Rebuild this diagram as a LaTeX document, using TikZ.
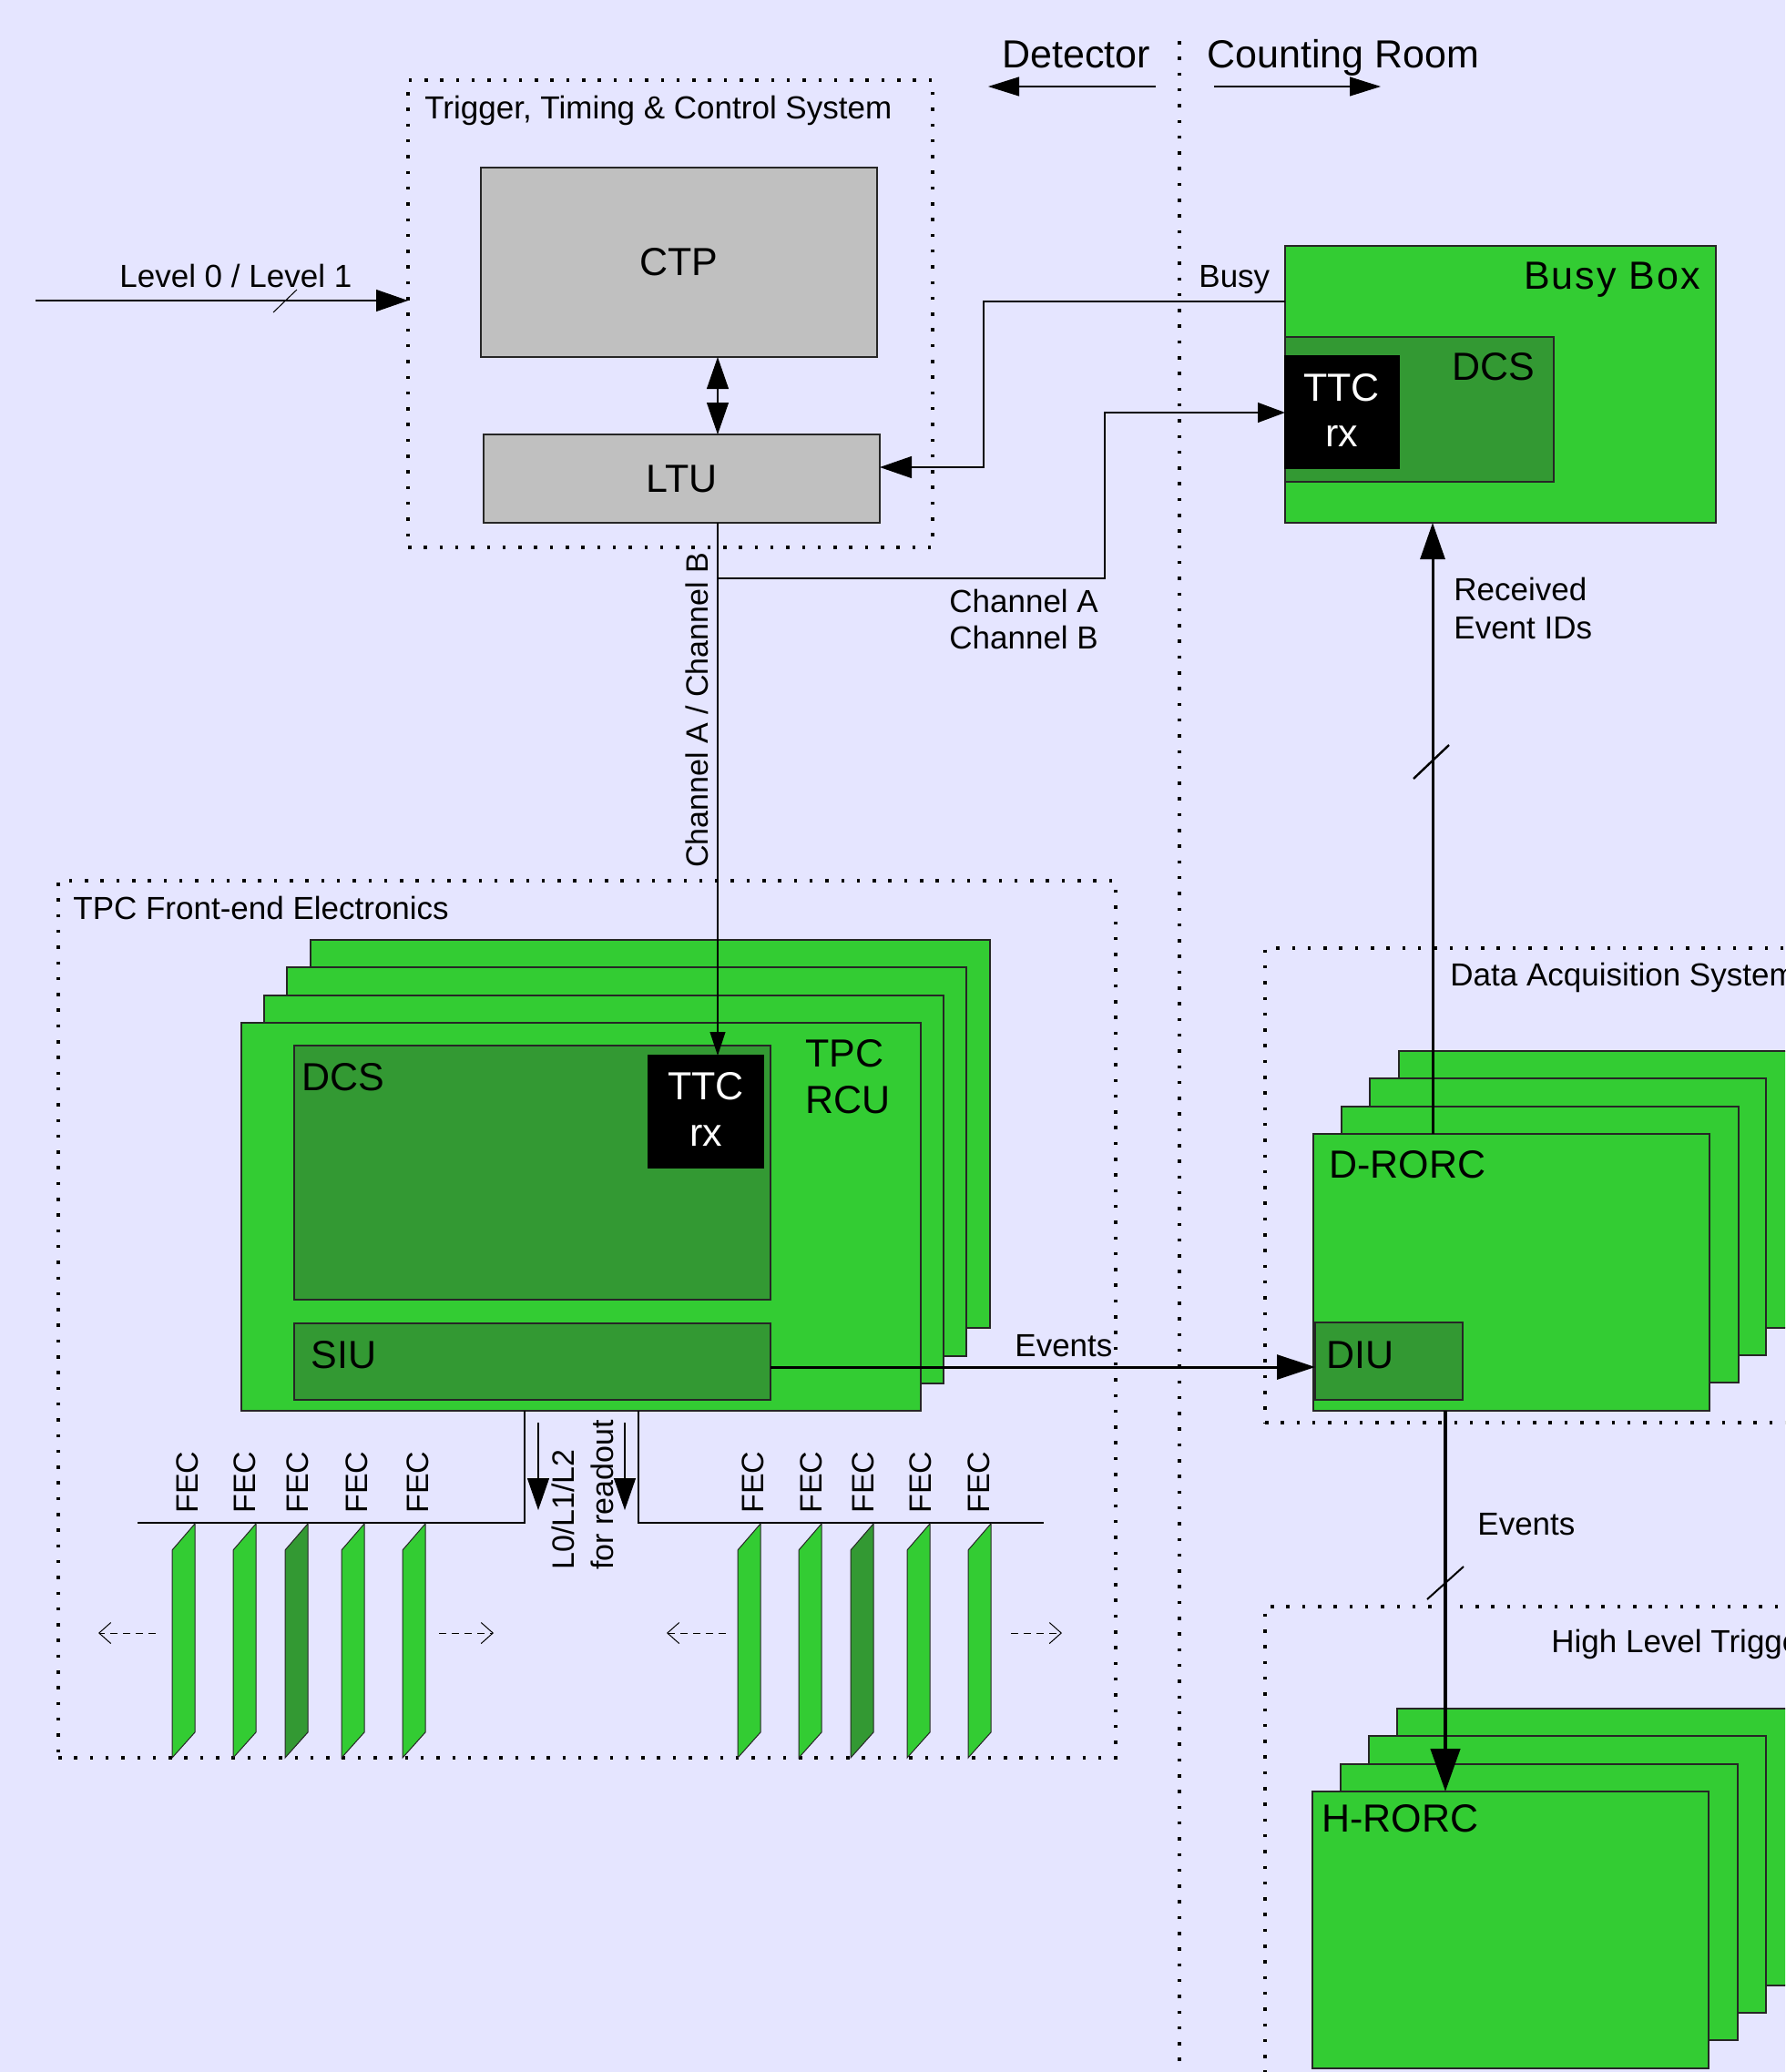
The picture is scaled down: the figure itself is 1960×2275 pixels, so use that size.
\documentclass[tikz,border=0pt]{standalone}
\usepackage{fontspec}
\setmainfont{Liberation Sans}
\usetikzlibrary{arrows.meta,fit}
\definecolor{bgc}{RGB}{229,229,255}
\definecolor{grn}{RGB}{51,204,51}
\definecolor{dgrn}{RGB}{51,153,51}
\definecolor{gry}{RGB}{192,192,192}
\begin{document}
\begin{tikzpicture}[x=0.5pt,y=-0.5pt,
  bx/.style={draw=black!85,line width=0.6pt,inner sep=0pt,outer sep=0pt},
  gbox/.style={bx,fill=grn},
  dbox/.style={bx,fill=dgrn},
  kbox/.style={bx,draw=black,fill=black},
  graybox/.style={bx,fill=gry},
  dotbox/.style={draw=black,line width=1.75pt,dash pattern=on 1.75pt off 6.9pt,inner sep=0pt,outer sep=0pt},
  fa/.style={font=\fontsize{17.5}{21}\selectfont},
  fb/.style={font=\fontsize{21.5}{26}\selectfont},
  fc/.style={font=\fontsize{17}{20}\selectfont},
  lbl/.style={inner sep=0pt,anchor=base west},
  thinln/.style={draw=black,line width=0.55pt},
  tipA/.style={-{Triangle[length=17.5pt,width=12pt]}},
  tipS/.style={-{Triangle[length=13pt,width=8.5pt]}},
  tipR/.style={-{Triangle[length=20pt,width=13.5pt]}},
  tipE/.style={-{Triangle[length=21pt,width=13.5pt]}},
  tipEE/.style={-{Triangle[length=23.5pt,width=16pt]}},
  tipD/.style={-{Triangle[length=17pt,width=10.5pt]}},
  dsh/.style={draw=black,line width=0.5pt,dash pattern=on 4pt off 3pt,-{Straight Barb[length=6.5pt,width=11.5pt]}},
  card/.style={draw=black!85,line width=0.5pt}
]
\clip (0,0) rectangle (1960,2275);
\fill[bgc] (0,0) rectangle (1960,2275);

% ---------- separator Detector / Counting Room
\draw[dotbox] (1295,45) -- (1295,2300);
\node[lbl,fb] (det) at (1100,74) {Detector};
\node[lbl,fb] (cr) at (1325,74) {Counting Room};
\coordinate (dA) at (1269,95);
\coordinate (dB) at (1085,95);
\coordinate (cA) at (1333,95);
\coordinate (cB) at (1516,95);
\draw[thinln,tipD] (dA) -- (dB);
\draw[thinln,tipD] (cA) -- (cB);

% ---------- dotted system boxes
\node[dotbox,fit={(448,88) (1024,601)}] (ttcs) {};
\node[lbl,fa] at (466,130) {Trigger, Timing \& Control System};
\node[dotbox,fit={(64,967) (1225,1930)}] (fee) {};
\node[lbl,fa] at (80,1009) {TPC Front-end Electronics};
\node[dotbox,fit={(1389,1041) (2010,1562)}] (daq) {};
\node[lbl,fa] at (1592,1082) {Data Acquisition System};
\node[dotbox,fit={(1389,1764) (2010,2400)}] (hlt) {};
\node[lbl,fa] at (1703,1814) {High Level Trigger};

% ---------- CTP / LTU
\node[graybox,fit={(528,184) (963,392)}] (ctp) {};
\node[inner sep=0pt,fb] (ctpt) at (ctp.center) {CTP};
\node[graybox,fit={(531,477) (966,574)}] (ltu) {};
\node[inner sep=0pt,fb] (ltut) at (ltu.center) {LTU};
\coordinate (chx) at (788,0);
\draw[thinln,{Triangle[length=17.5pt,width=12pt]}-{Triangle[length=17.5pt,width=12pt]}]
  (ctp.south -| chx) -- (ltu.north -| chx);

% ---------- Level 0 / Level 1
\coordinate (lvl) at (39,330);
\draw[thinln,tipA] (lvl) -- (lvl -| ttcs.west);
\draw[line width=0.5pt] (300,343) -- (326,318);
\node[lbl,fa] at (131,315) {Level 0 / Level 1};

% ---------- Busy Box
\node[gbox,fit={(1411,270) (1884,574)}] (bb) {};
\node[inner sep=0pt,anchor=base east,fb] at (1867,317) {\addfontfeature{LetterSpace=4.5}Busy Box};
\node[dbox,fit={(1411,370) (1706,529)}] (bdcs) {};
\node[lbl,fb] at (1594,417) {DCS};
\node[kbox,fit={(1411,391) (1536,514)}] (bttc) {};
\node[inner sep=0pt,anchor=base,fb,text=white] at (1473,440) {TTC};
\node[inner sep=0pt,anchor=base,fb,text=white] at (1473,490) {rx};

% Busy signal
\coordinate (busyy) at (0,331);
\coordinate (busyx) at (1080,513);
\draw[thinln,tipA] (bb.west |- busyy) -| (busyx) -- (busyx -| ltu.east);
\node[lbl,fa] at (1316,315) {Busy};

% ---------- TPC RCU stack
\node[gbox,fit={(341,1032) (1087,1458)}] (rcu4) {};
\node[gbox,fit={(315,1062) (1061,1489)}] (rcu3) {};
\node[gbox,fit={(290,1093) (1036,1519)}] (rcu2) {};
\node[gbox,fit={(265,1123) (1011,1549)}] (rcu) {};
\node[dbox,fit={(323,1148) (846,1427)}] (rdcs) {};
\node[lbl,fb] at (331,1197) {DCS};
\node[kbox,fit={(712,1159) (838,1282)}] (rttc) {};
\node[inner sep=0pt,anchor=base,fb,text=white] at (775,1207) {TTC};
\node[inner sep=0pt,anchor=base,fb,text=white] at (775,1258) {rx};
\node[lbl,fb] at (884,1171) {TPC};
\node[lbl,fb] at (884,1222) {RCU};
\node[dbox,fit={(323,1453) (846,1537)}] (siu) {};
\node[lbl,fb] at (341,1502) {SIU};

% Channel A / Channel B
\draw[thinln,tipS] (ltu.south -| chx) -- (rttc.north -| chx);
\node[inner sep=0pt,anchor=base,rotate=90,fc] at (777,780) {Channel A / Channel B};
\coordinate (chj) at (788,635);
\coordinate (chk) at (1213,453);
\draw[thinln,-{Triangle[length=15pt,width=11pt]}] (chj) -| (chk) -- (chk -| bttc.west);
\node[lbl,fa] at (1042,672) {Channel A};
\node[lbl,fa] at (1042,712) {Channel B};

% ---------- D-RORC stack
\node[gbox,fit={(1536,1154) (1971,1458)}] (dr4) {};
\node[gbox,fit={(1504,1184) (1939,1488)}] (dr3) {};
\node[gbox,fit={(1473,1215) (1909,1518)}] (dr2) {};
\node[gbox,fit={(1442,1245) (1877,1549)}] (drorc) {};
\node[lbl,fb] at (1459,1293) {D-RORC};
\node[dbox,fit={(1444,1452) (1606,1537)}] (diu) {};
\node[lbl,fb] at (1456,1502) {DIU};

% Received Event IDs
\coordinate (rx) at (1573,0);
\draw[line width=1.5pt,tipR] (drorc.north -| rx) -- (bb.south -| rx);
\draw[line width=1.2pt] (1552,855) -- (1591,818);
\node[lbl,fa] at (1596,659) {Received};
\node[lbl,fa] at (1596,701) {Event IDs};

% Events SIU -> DIU
\coordinate (evy) at (0,1501);
\draw[line width=1.5pt,tipE] (siu.east |- evy) -- (diu.west |- evy);
\node[lbl,fa] at (1114,1489) {Events};

% ---------- H-RORC stack
\node[gbox,fit={(1534,1876) (1970,2180)}] (hr4) {};
\node[gbox,fit={(1503,1906) (1939,2210)}] (hr3) {};
\node[gbox,fit={(1472,1937) (1908,2240)}] (hr2) {};
\node[gbox,fit={(1441,1967) (1876,2271)}] (hrorc) {};
\node[lbl,fb] at (1451,2011) {H-RORC};

% Events D-RORC -> H-RORC
\coordinate (ex) at (1587,0);
\draw[line width=2.3pt,tipEE] (drorc.south -| ex) -- (hrorc.north -| ex);
\draw[line width=1pt] (1567,1756) -- (1607,1720);
\node[lbl,fa] at (1622,1685) {Events};

% ---------- FEC bus
\coordinate (bl) at (576,1672);
\coordinate (br) at (701,1672);
\draw[thinln] (rcu.south -| bl) -- (bl) -- (151,1672);
\draw[thinln] (rcu.south -| br) -- (br) -- (1146,1672);
\coordinate (a1s) at (591,1562);
\coordinate (a1e) at (591,1658);
\coordinate (a2s) at (686,1562);
\coordinate (a2e) at (686,1658);
\draw[thinln,tipA] (a1s) -- (a1e);
\draw[thinln,tipA] (a2s) -- (a2e);
\node[inner sep=0pt,anchor=base west,rotate=90,fc] at (630,1724) {L0/L1/L2};
\node[inner sep=0pt,anchor=base west,rotate=90,fc] at (673,1724) {for readout};

\foreach \x/\c in {189/grn,256/grn,313/dgrn,375/grn,442/grn,810/grn,877/grn,934/dgrn,996/grn,1063/grn}{
  \draw[card,fill=\c] (\x,1702) -- (\x+25,1673) -- (\x+25,1902) -- (\x,1930) -- cycle;
}
\foreach \x in {217,280,338,403,470,838,902,959,1022,1086}{
  \node[inner sep=0pt,anchor=base west,rotate=90,fc] at (\x,1662) {FEC};
}
\draw[dsh] (171,1793) -- (108,1793);
\draw[dsh] (482,1793) -- (542,1793);
\draw[dsh] (797,1793) -- (732,1793);
\draw[dsh] (1110,1793) -- (1166,1793);
\end{tikzpicture}
\end{document}
